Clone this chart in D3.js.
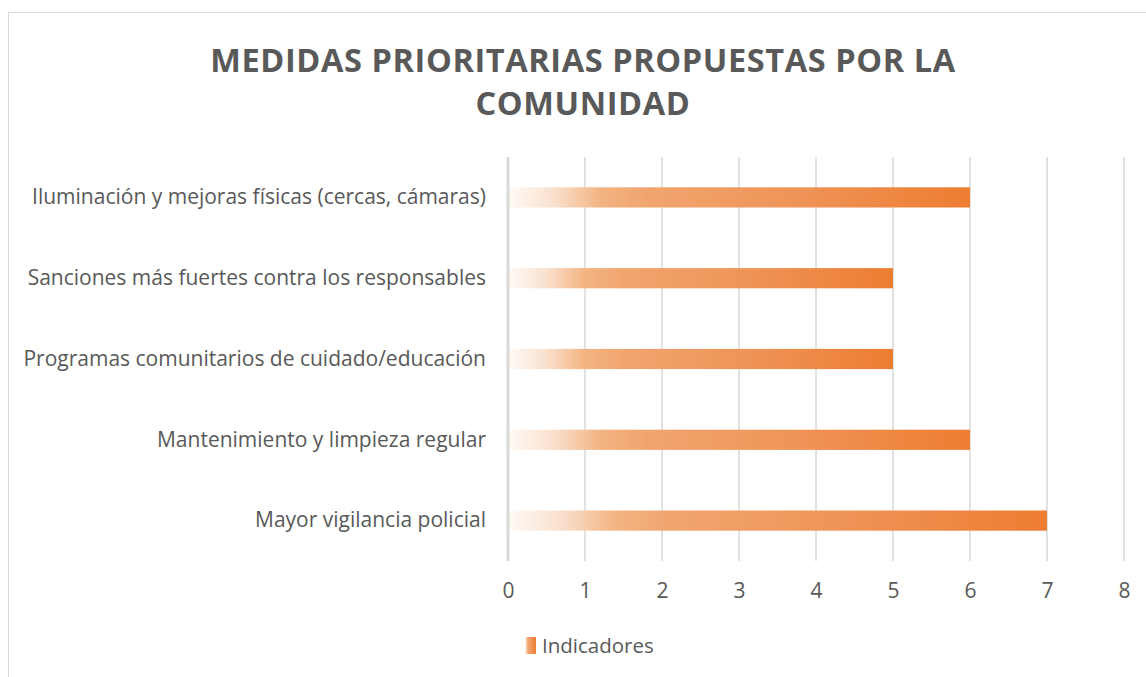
<!DOCTYPE html>
<html>
<head>
<meta charset="utf-8">
<script src="https://cdn.jsdelivr.net/npm/d3@7"></script>
<style>
  body { margin: 0; background: #fff; }
  svg { display: block; }
</style>
</head>
<body>
<div id="chart"></div>
<script>
// data
const categories = [
  'Iluminación y mejoras físicas (cercas, cámaras)',
  'Sanciones más fuertes contra los responsables',
  'Programas comunitarios de cuidado/educación',
  'Mantenimiento y limpieza regular',
  'Mayor vigilancia policial'
];
const values = [6, 5, 5, 6, 7];
const xTicks = [0, 1, 2, 3, 4, 5, 6, 7, 8];
const titleLines = ['MEDIDAS PRIORITARIAS PROPUESTAS POR LA', 'COMUNIDAD'];
const seriesName = 'Indicadores';

const width = 1146, height = 677;
const margin = {top: 157, right: 22, bottom: 116, left: 508};
const font = "'Open Sans', 'Noto Sans', sans-serif";
const textColor = '#595959';
const gridColor = '#d9d9d9';

const svg = d3.select('#chart').append('svg')
  .attr('width', width)
  .attr('height', height)
  .attr('viewBox', [0, 0, width, height]);

// chart border
svg.append('rect')
  .attr('x', 8.5).attr('y', 12.5)
  .attr('width', width + 20).attr('height', height + 20)
  .attr('fill', '#fff')
  .attr('stroke', gridColor);

// bar gradient, one per bar (bounding box)
const grad = svg.append('defs').append('linearGradient')
  .attr('id', 'barGrad')
  .attr('x1', 0).attr('x2', 1).attr('y1', 0).attr('y2', 0);
[
  [0, '#fffaf6'],
  [0.1, '#f9e0cd'],
  [0.2, '#f3b482'],
  [0.3, '#f1a56e'],
  [0.6, '#ef955a'],
  [1, '#ed7d31']
].forEach(([o, c]) => grad.append('stop').attr('offset', o).attr('stop-color', c));

const x = d3.scaleLinear()
  .domain([0, 8])
  .range([margin.left, width - margin.right]);
const y = d3.scaleBand()
  .domain(categories)
  .range([margin.top, height - margin.bottom])
  .paddingInner(0.75)
  .paddingOuter(0.375);

// title
svg.append('g')
  .attr('font-family', font)
  .attr('font-weight', 'bold')
  .attr('font-size', 32.5)
  .attr('fill', textColor)
  .attr('text-anchor', 'middle')
  .selectAll('text')
  .data(titleLines)
  .join('text')
  .attr('x', 583)
  .attr('y', (d, i) => 72 + i * 43)
  .attr('letter-spacing', 0.6)
  .text(d => d);

// gridlines
svg.append('g')
  .selectAll('line')
  .data(xTicks.slice(1))
  .join('line')
  .attr('x1', d => x(d)).attr('x2', d => x(d))
  .attr('y1', margin.top).attr('y2', height - margin.bottom)
  .attr('stroke', gridColor)
  .attr('stroke-width', 1.5);

// bars
svg.append('g')
  .selectAll('rect')
  .data(categories)
  .join('rect')
  .attr('x', x(0))
  .attr('y', d => y(d))
  .attr('width', (d, i) => x(values[i]) - x(0))
  .attr('height', y.bandwidth())
  .attr('fill', 'url(#barGrad)');

// value axis line at zero
svg.append('line')
  .attr('x1', x(0)).attr('x2', x(0))
  .attr('y1', margin.top).attr('y2', height - margin.bottom)
  .attr('stroke', gridColor)
  .attr('stroke-width', 3);

// x axis labels
const xAxis = d3.axisBottom(x).tickValues(xTicks).tickSize(0).tickPadding(22);
svg.append('g')
  .attr('transform', `translate(0,${height - margin.bottom})`)
  .call(xAxis)
  .call(g => g.select('.domain').remove())
  .call(g => g.selectAll('text')
    .attr('font-family', font)
    .attr('font-size', 21)
    .attr('fill', textColor));

// category labels
const yAxis = d3.axisLeft(y).tickSize(0).tickPadding(22);
svg.append('g')
  .attr('transform', `translate(${margin.left},0)`)
  .call(yAxis)
  .call(g => g.select('.domain').remove())
  .call(g => g.selectAll('text')
    .attr('font-family', font)
    .attr('font-size', 21)
    .attr('fill', textColor));

// legend
const legend = svg.append('g').attr('transform', 'translate(525,637)');
legend.append('rect')
  .attr('width', 11).attr('height', 17)
  .attr('fill', 'url(#barGrad)');
legend.append('text')
  .attr('x', 17).attr('y', 8.5)
  .attr('dy', '0.35em')
  .attr('font-family', font)
  .attr('font-size', 20.5)
  .attr('fill', textColor)
  .text(seriesName);
</script>
</body>
</html>
